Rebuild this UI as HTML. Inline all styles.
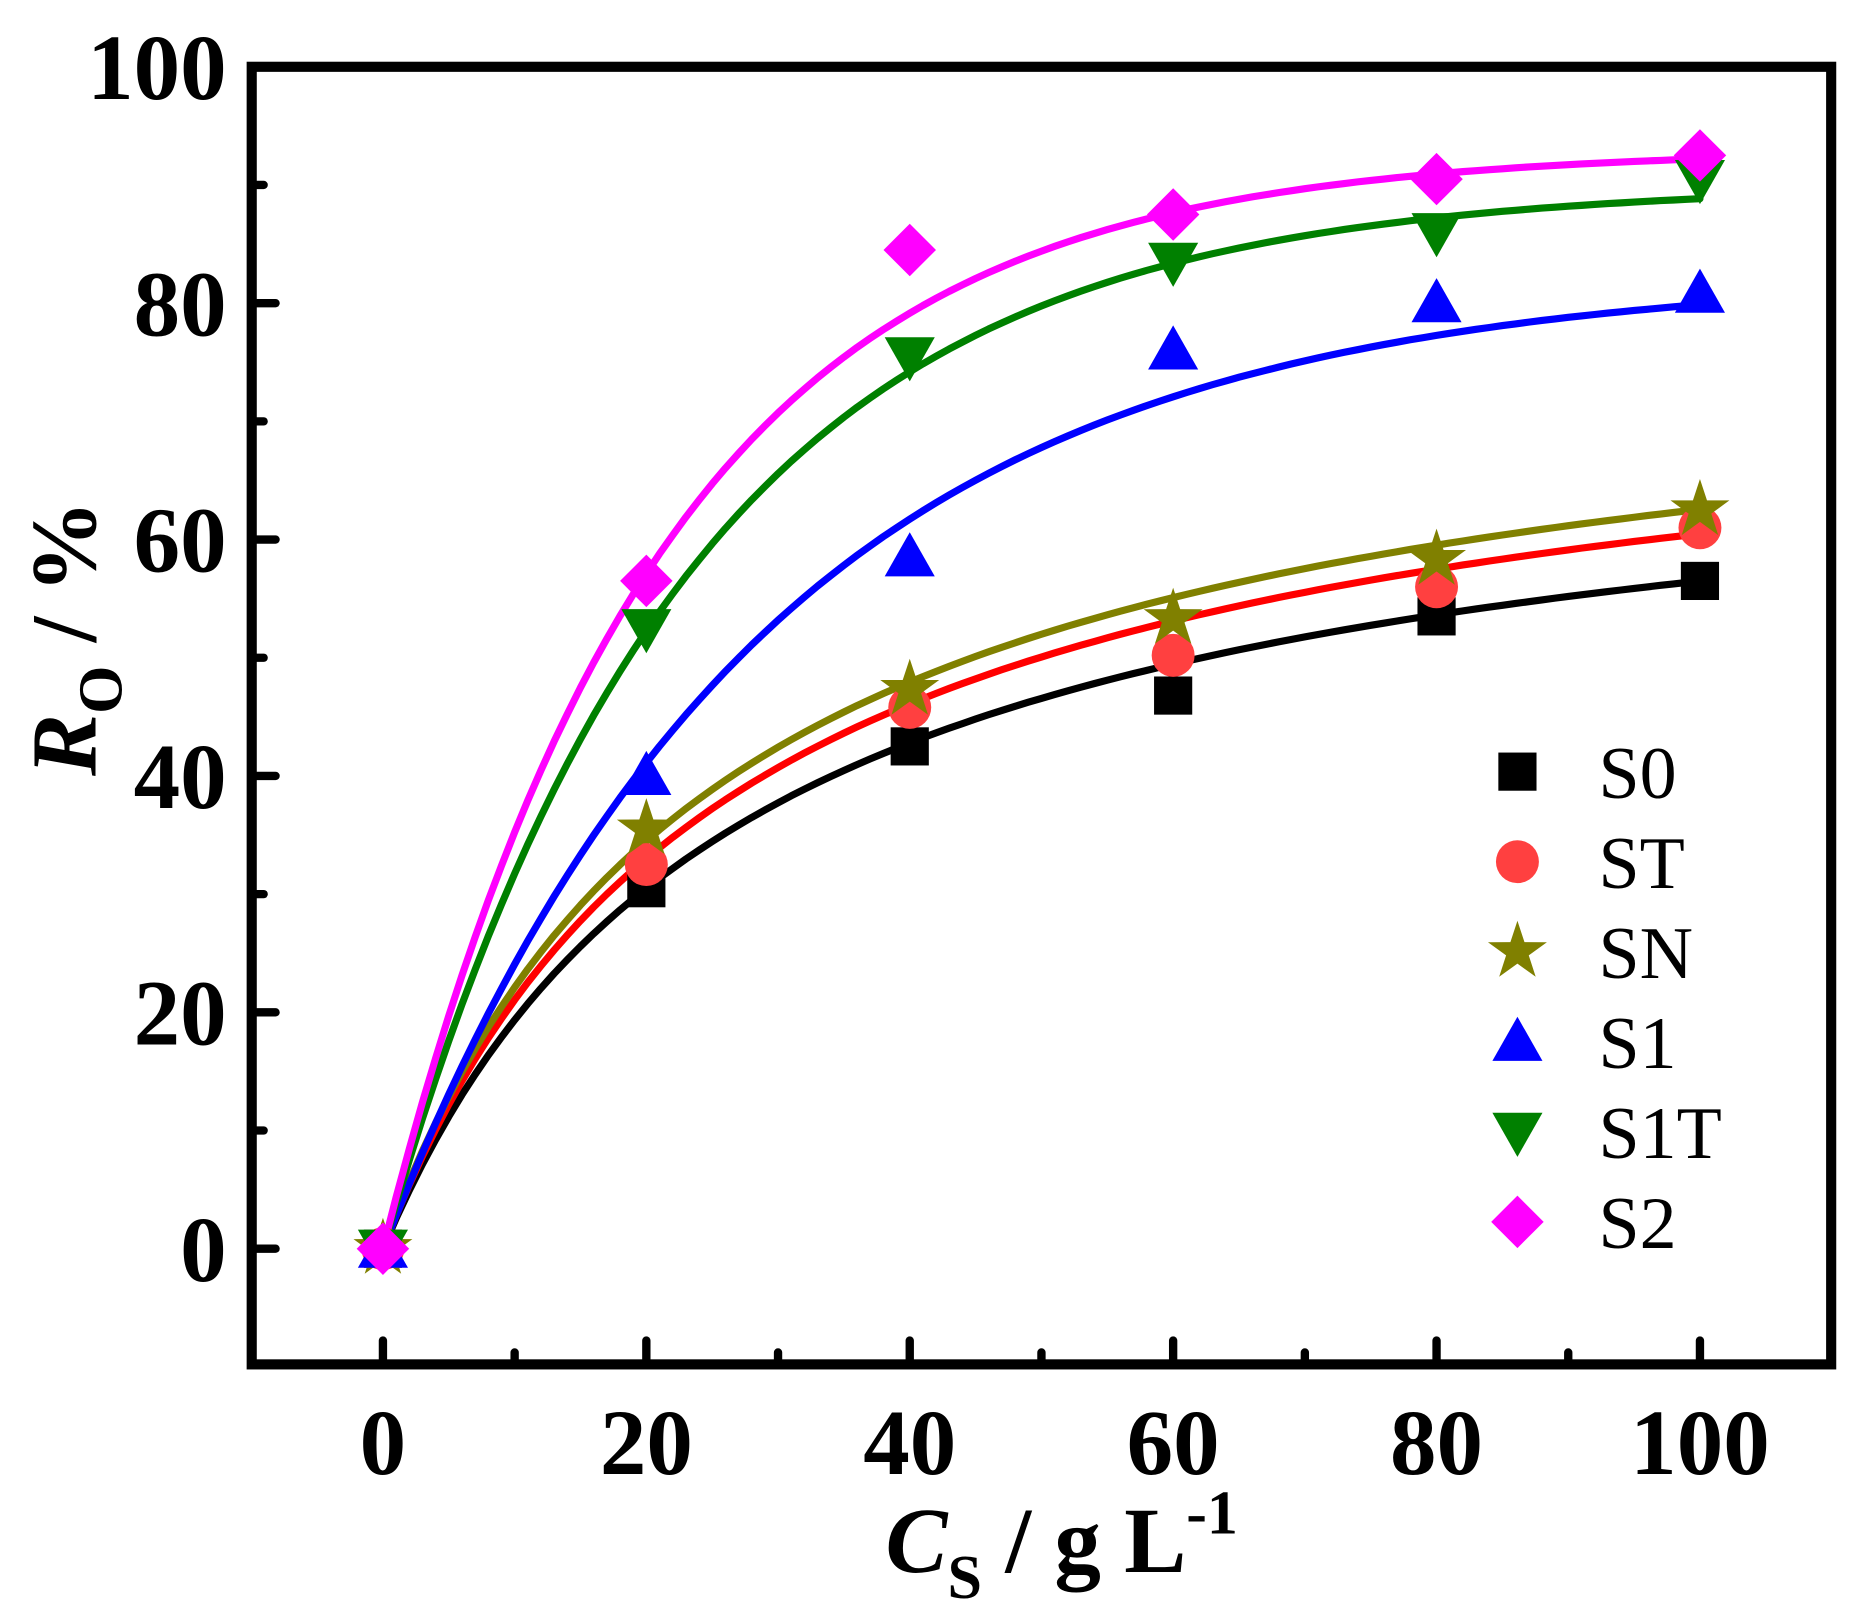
<!DOCTYPE html>
<html><head><meta charset="utf-8"><style>
html,body{margin:0;padding:0;background:#fff;}
svg{display:block;}
text{font-family:"Liberation Serif",serif;}
</style></head><body>
<svg id="chart" width="1861" height="1622" viewBox="0 0 1560 1360" preserveAspectRatio="none" xmlns="http://www.w3.org/2000/svg">
<g id="ticks"></g>
<g id="curves"></g>
<g id="marks"></g>
<rect x="211" y="56" width="1324" height="1088" fill="none" stroke="#000" stroke-width="8.5"/>
<g id="labels"></g>
<text x="890" y="1318" text-anchor="middle" font-size="78" font-weight="bold"><tspan font-style="italic">C</tspan><tspan font-size="52" dy="22">S</tspan><tspan dy="-22"> / g L</tspan><tspan font-size="52" dy="-32">-1</tspan></text>
<text transform="translate(80,535) rotate(-90)" text-anchor="middle" font-size="78" font-weight="bold"><tspan font-style="italic">R</tspan><tspan font-size="52" dy="22">O</tspan><tspan dy="-22"> / %</tspan></text>
<g id="legend"></g>
</svg>
<script>
const xs = [0, 20, 40, 60, 80, 100];
const seriesNames = ["S0", "ST", "SN", "S1", "S1T", "S2"];
const s0 = [0, 30.5, 42.5, 46.8, 53.5, 56.5];
const sT = [0, 32.5, 45.8, 50.2, 56, 61];
const sN = [0, 35.5, 47.3, 53.3, 58.3, 62.5];
const s1 = [0, 40, 58.5, 76, 80, 80.8];
const s1T = [0, 52.5, 75.5, 83.5, 86, 90.5];
const s2 = [0, 56.5, 84.5, 87.5, 90.5, 92.5];
// fit parameters: hyperbolic a*x/(b+x) for S0/ST/SN, exponential A(1-exp(-x/t)) for S1/S1T/S2
const fitA = [71.8, 76.4, 78.5, 82.5, 90, 93];
const fitB = [27.1, 26.3, 25.5, 29, 23, 21];
const fitType = ["h", "h", "h", "e", "e", "e"];
const xTicks = [0, 20, 40, 60, 80, 100];
const yTicks = [0, 20, 40, 60, 80, 100];

const colors = ["#000000", "#ff4040", "#808000", "#0000ff", "#008000", "#ff00ff"];
const lineColors = ["#000000", "#ff0000", "#808000", "#0000ff", "#008000", "#ff00ff"];
const shapes = ["square", "circle", "star", "up", "down", "diamond"];
const allSeries = [s0, sT, sN, s1, s1T, s2];
const NS = "http://www.w3.org/2000/svg";
const X = v => 321 + (v) * 11.04;
const Y = v => 1047 - v * 9.91;

function mk(tag, attrs, parent) {
  const e = document.createElementNS(NS, tag);
  for (const k in attrs) e.setAttribute(k, attrs[k]);
  parent.appendChild(e);
  return e;
}
function marker(shape, cx, cy, color, parent) {
  let e;
  if (shape === "square") e = mk("rect", {x: cx-16, y: cy-16, width: 32, height: 32, fill: color}, parent);
  else if (shape === "circle") e = mk("circle", {cx: cx, cy: cy, r: 18, fill: color}, parent);
  else if (shape === "up") e = mk("polygon", {points: `${cx},${cy-21} ${cx+21},${cy+16} ${cx-21},${cy+16}`, fill: color}, parent);
  else if (shape === "down") e = mk("polygon", {points: `${cx},${cy+21} ${cx+21},${cy-16} ${cx-21},${cy-16}`, fill: color}, parent);
  else if (shape === "diamond") e = mk("polygon", {points: `${cx},${cy-22} ${cx+22},${cy} ${cx},${cy+22} ${cx-22},${cy}`, fill: color}, parent);
  else {
    let p = [];
    for (let i = 0; i < 10; i++) {
      const r = i % 2 ? 10 : 26, a = -Math.PI/2 + i*Math.PI/5;
      p.push((cx + r*Math.cos(a)).toFixed(1) + "," + (cy + r*Math.sin(a)).toFixed(1));
    }
    e = mk("polygon", {points: p.join(" "), fill: color}, parent);
  }
  return e;
}

const ticks = document.getElementById("ticks");
for (let v = 0; v <= 100; v += 10) {
  const major = v % 20 === 0;
  const t = mk("line", {x1: X(v), x2: X(v), y1: 1144, y2: 1144 - (major ? 20 : 10), stroke: "#000", "stroke-width": 7, "stroke-linecap": "round"}, ticks);
  
  
}
for (let v = 0; v <= 100; v += 10) {
  const major = v % 20 === 0;
  const t = mk("line", {x1: 211, x2: 211 + (major ? 20 : 10), y1: Y(v), y2: Y(v), stroke: "#000", "stroke-width": 7, "stroke-linecap": "round"}, ticks);
  
  
}
const labels = document.getElementById("labels");
xTicks.forEach(v => {
  const t = mk("text", {x: X(v), y: 1236, "text-anchor": "middle", "font-size": 78, "font-weight": "bold"}, labels);
  t.textContent = v;
  
  
});
yTicks.forEach(v => {
  const t = mk("text", {x: 190, y: Y(v) + 27, "text-anchor": "end", "font-size": 78, "font-weight": "bold"}, labels);
  t.textContent = v;
  
  
});

const curves = document.getElementById("curves");
const marks = document.getElementById("marks");
allSeries.forEach((s, i) => {
  let d = "";
  for (let x = 0; x <= 100.01; x += 1) {
    const y = fitType[i] === "h" ? fitA[i]*x/(fitB[i]+x) : fitA[i]*(1-Math.exp(-x/fitB[i]));
    d += (x === 0 ? "M" : "L") + X(x).toFixed(1) + "," + Y(y).toFixed(1);
  }
  const p = mk("path", {d: d, fill: "none", stroke: lineColors[i], "stroke-width": 6, "stroke-linecap": "round", "stroke-linejoin": "round"}, curves);
  
  
});
allSeries.forEach((s, i) => {
  s.forEach((v, j) => {
    const m = marker(shapes[i], X(xs[j]), Y(v), colors[i], marks);
    
    
  });
});
const legend = document.getElementById("legend");
seriesNames.forEach((n, i) => {
  const cy = 647 + i * 75.5;
  const m = marker(shapes[i], 1272, cy, colors[i], legend);
  
  
  const t = mk("text", {x: 1340, y: cy + 22, "font-size": 62}, legend);
  t.textContent = n;
  
  
});
</script>
</body></html>
